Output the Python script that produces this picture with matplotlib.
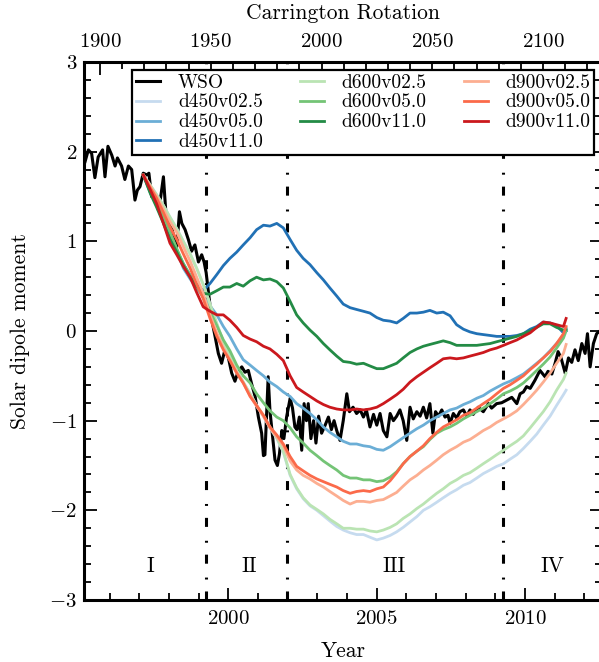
import numpy as np
import matplotlib
matplotlib.use('Agg')
import matplotlib.pyplot as plt
from matplotlib.ticker import MultipleLocator, FixedLocator

# Fonte parecida com o LaTeX (Computer Modern)
plt.rcParams['font.family'] = ['cmr10', 'DejaVu Serif']
plt.rcParams['mathtext.fontset'] = 'cm'
plt.rcParams['axes.formatter.use_mathtext'] = True
plt.rcParams['lines.scale_dashes'] = False

# Dados
wso_year = [1995.17, 1995.28, 1995.39, 1995.50, 1995.61, 1995.76, 1995.84, 1995.94, 1996.07, 1996.18,
            1996.26, 1996.40, 1996.51, 1996.63, 1996.74, 1996.85, 1996.93, 1997.02, 1997.13, 1997.25,
            1997.32, 1997.41, 1997.53, 1997.64, 1997.72, 1997.81, 1997.90, 1997.97, 1998.09, 1998.17,
            1998.26, 1998.35, 1998.43, 1998.54, 1998.65, 1998.76, 1998.87, 1998.99, 1999.10, 1999.18,
            1999.25, 1999.32, 1999.44, 1999.55, 1999.66, 1999.77, 1999.89, 2000.00, 2000.11, 2000.22,
            2000.33, 2000.45, 2000.56, 2000.67, 2000.79, 2000.90, 2001.01, 2001.12, 2001.18, 2001.23,
            2001.34, 2001.40, 2001.49, 2001.57, 2001.65, 2001.72, 2001.80, 2001.87, 2001.96, 2002.08,
            2002.16, 2002.24, 2002.31, 2002.39, 2002.47, 2002.55, 2002.63, 2002.69, 2002.78, 2002.87,
            2002.95, 2003.04, 2003.14, 2003.26, 2003.37, 2003.47, 2003.56, 2003.65, 2003.76, 2003.87,
            2003.99, 2004.08, 2004.20, 2004.32, 2004.44, 2004.55, 2004.65, 2004.77, 2004.89, 2005.00,
            2005.11, 2005.22, 2005.34, 2005.45, 2005.56, 2005.67, 2005.78, 2005.89, 2006.01, 2006.12,
            2006.23, 2006.35, 2006.46, 2006.57, 2006.68, 2006.79, 2006.89, 2006.98, 2007.08, 2007.19,
            2007.30, 2007.40, 2007.47, 2007.58, 2007.69, 2007.80, 2007.92, 2008.03, 2008.14, 2008.25,
            2008.42, 2008.59, 2008.76, 2008.87, 2009.04, 2009.21, 2009.38, 2009.55, 2009.72, 2009.83,
            2009.94, 2010.05, 2010.17, 2010.33, 2010.50, 2010.67, 2010.77, 2010.90, 2011.01, 2011.11,
            2011.21, 2011.35, 2011.46, 2011.57, 2011.68, 2011.79, 2011.91, 2012.02, 2012.10, 2012.19,
            2012.30, 2012.41, 2012.52]
wso_val = [1.89, 2.02, 1.98, 1.71, 1.94, 2.02, 1.72, 2.06, 1.96, 1.84,
           1.93, 1.84, 1.69, 1.84, 1.80, 1.46, 1.57, 1.61, 1.76, 1.74,
           1.76, 1.50, 1.52, 1.35, 1.50, 1.72, 1.28, 1.23, 1.16, 1.02,
           0.94, 1.33, 1.20, 1.13, 1.02, 0.89, 0.96, 0.77, 0.85, 0.77,
           0.65, 0.45, 0.12, -0.06, -0.25, -0.36, -0.20, -0.30, -0.47, -0.56,
           -0.45, -0.40, -0.46, -0.44, -0.60, -0.73, -0.96, -1.14, -1.39, -1.38,
           -0.51, -0.89, -1.18, -1.44, -1.50, -1.37, -1.11, -1.20, -0.96, -0.75,
           -0.86, -1.07, -1.10, -0.96, -1.33, -0.81, -1.00, -0.81, -1.20, -1.00,
           -1.25, -0.95, -1.14, -1.05, -0.96, -1.10, -1.00, -1.11, -1.22, -1.00,
           -0.70, -0.90, -0.85, -0.92, -0.88, -0.96, -0.88, -1.07, -0.93, -1.05,
           -0.92, -1.11, -1.18, -0.92, -1.00, -0.95, -0.88, -1.00, -1.22, -0.85,
           -0.98, -0.90, -0.95, -0.85, -0.97, -0.81, -1.14, -0.90, -0.95, -0.88,
           -0.96, -0.94, -1.03, -0.92, -0.97, -0.90, -0.88, -0.95, -0.88, -0.93,
           -0.85, -0.90, -0.81, -0.86, -0.81, -0.80, -0.77, -0.74, -0.81, -0.70,
           -0.68, -0.62, -0.64, -0.55, -0.44, -0.51, -0.45, -0.48, -0.36, -0.23,
           -0.30, -0.47, -0.30, -0.35, -0.21, -0.33, -0.14, -0.25, -0.03, -0.40,
           -0.14, -0.03, 0.00]

model_year = [1997.13, 1997.36, 1997.58, 1997.81, 1998.03, 1998.26, 1998.48, 1998.71, 1998.93, 1999.15,
              1999.38, 1999.61, 1999.83, 2000.05, 2000.28, 2000.50, 2000.73, 2000.95, 2001.18, 2001.40,
              2001.63, 2001.85, 2002.08, 2002.30, 2002.52, 2002.75, 2002.98, 2003.20, 2003.42, 2003.65,
              2003.87, 2004.10, 2004.32, 2004.55, 2004.77, 2005.00, 2005.22, 2005.45, 2005.67, 2005.89,
              2006.12, 2006.35, 2006.57, 2006.79, 2007.02, 2007.24, 2007.47, 2007.69, 2007.92, 2008.14,
              2008.37, 2008.59, 2008.82, 2009.04, 2009.27, 2009.49, 2009.72, 2009.94, 2010.17, 2010.39,
              2010.61, 2010.84, 2011.06, 2011.29, 2011.38]

d450v025 = [1.74, 1.63, 1.52, 1.40, 1.27, 1.14, 1.00, 0.86, 0.70, 0.52,
            0.30, 0.08, -0.12, -0.28, -0.44, -0.57, -0.70, -0.83, -0.95, -1.08,
            -1.20, -1.35, -1.61, -1.76, -1.87, -1.95, -2.00, -2.06, -2.12, -2.18,
            -2.22, -2.25, -2.27, -2.27, -2.30, -2.33, -2.31, -2.28, -2.24, -2.19,
            -2.13, -2.07, -2.00, -1.96, -1.91, -1.86, -1.81, -1.77, -1.72, -1.69,
            -1.64, -1.59, -1.55, -1.51, -1.48, -1.43, -1.38, -1.31, -1.23, -1.15,
            -1.05, -0.95, -0.83, -0.71, -0.66]
d450v050 = [1.74, 1.57, 1.42, 1.26, 1.10, 0.90, 0.70, 0.58, 0.48, 0.38,
            0.28, 0.18, 0.05, -0.06, -0.20, -0.32, -0.38, -0.44, -0.50, -0.57,
            -0.62, -0.68, -0.73, -0.81, -0.86, -0.92, -0.99, -1.07, -1.13, -1.18,
            -1.23, -1.26, -1.26, -1.28, -1.29, -1.32, -1.33, -1.29, -1.24, -1.19,
            -1.14, -1.09, -1.05, -1.00, -0.96, -0.92, -0.88, -0.86, -0.82, -0.79,
            -0.75, -0.72, -0.67, -0.63, -0.59, -0.56, -0.52, -0.48, -0.42, -0.36,
            -0.30, -0.22, -0.14, -0.05, 0.03]
d450v110 = [1.74, 1.55, 1.40, 1.22, 1.05, 0.90, 0.75, 0.62, 0.52, 0.45,
            0.53, 0.63, 0.73, 0.81, 0.88, 0.96, 1.04, 1.13, 1.18, 1.17,
            1.20, 1.15, 1.02, 0.90, 0.81, 0.74, 0.65, 0.57, 0.48, 0.39,
            0.30, 0.26, 0.24, 0.22, 0.20, 0.15, 0.12, 0.11, 0.09, 0.14,
            0.20, 0.20, 0.21, 0.23, 0.20, 0.21, 0.17, 0.07, 0.02, -0.01,
            -0.03, -0.04, -0.05, -0.06, -0.06, -0.06, -0.05, -0.03, 0.02, 0.05,
            0.10, 0.09, 0.06, -0.02, 0.00]
d600v025 = [1.74, 1.63, 1.52, 1.40, 1.27, 1.14, 1.00, 0.86, 0.70, 0.52,
            0.30, 0.08, -0.12, -0.28, -0.44, -0.57, -0.70, -0.83, -0.94, -1.07,
            -1.19, -1.34, -1.60, -1.75, -1.86, -1.94, -1.99, -2.04, -2.10, -2.15,
            -2.20, -2.20, -2.21, -2.21, -2.23, -2.24, -2.22, -2.19, -2.15, -2.09,
            -2.04, -1.98, -1.93, -1.87, -1.81, -1.76, -1.70, -1.66, -1.61, -1.58,
            -1.53, -1.48, -1.43, -1.38, -1.33, -1.28, -1.23, -1.17, -1.08, -0.99,
            -0.90, -0.79, -0.66, -0.54, -0.47]
d600v050 = [1.74, 1.58, 1.44, 1.27, 1.10, 0.92, 0.75, 0.62, 0.50, 0.38,
            0.22, 0.06, -0.10, -0.22, -0.38, -0.50, -0.58, -0.70, -0.80, -0.89,
            -0.96, -1.00, -1.08, -1.18, -1.25, -1.33, -1.39, -1.45, -1.50, -1.55,
            -1.61, -1.64, -1.64, -1.66, -1.66, -1.68, -1.67, -1.63, -1.57, -1.48,
            -1.40, -1.34, -1.29, -1.21, -1.14, -1.10, -1.07, -1.03, -0.98, -0.94,
            -0.90, -0.86, -0.81, -0.76, -0.70, -0.67, -0.63, -0.58, -0.51, -0.44,
            -0.37, -0.29, -0.19, -0.08, 0.00]
d600v110 = [1.74, 1.54, 1.38, 1.20, 1.02, 0.88, 0.73, 0.60, 0.50, 0.42,
            0.41, 0.45, 0.49, 0.49, 0.53, 0.50, 0.56, 0.60, 0.57, 0.58,
            0.55, 0.48, 0.33, 0.18, 0.09, 0.01, -0.06, -0.14, -0.21, -0.28,
            -0.34, -0.35, -0.37, -0.36, -0.39, -0.42, -0.42, -0.39, -0.36, -0.30,
            -0.24, -0.20, -0.17, -0.15, -0.13, -0.11, -0.13, -0.16, -0.16, -0.16,
            -0.16, -0.15, -0.14, -0.12, -0.10, -0.08, -0.06, -0.03, 0.00, 0.04,
            0.08, 0.08, 0.04, 0.01, 0.02]
d900v025 = [1.74, 1.62, 1.50, 1.36, 1.22, 1.10, 0.94, 0.78, 0.60, 0.42,
            0.18, -0.02, -0.19, -0.32, -0.46, -0.58, -0.72, -0.84, -0.95, -1.08,
            -1.18, -1.28, -1.45, -1.55, -1.61, -1.65, -1.70, -1.74, -1.79, -1.84,
            -1.89, -1.93, -1.90, -1.90, -1.91, -1.89, -1.88, -1.84, -1.80, -1.73,
            -1.66, -1.61, -1.55, -1.50, -1.44, -1.38, -1.33, -1.29, -1.24, -1.21,
            -1.16, -1.11, -1.07, -1.02, -0.98, -0.94, -0.89, -0.82, -0.74, -0.66,
            -0.57, -0.47, -0.36, -0.25, -0.15]
d900v050 = [1.74, 1.60, 1.48, 1.32, 1.16, 1.02, 0.86, 0.70, 0.52, 0.36,
            0.14, -0.06, -0.21, -0.33, -0.47, -0.58, -0.73, -0.83, -0.94, -1.07,
            -1.16, -1.26, -1.40, -1.51, -1.56, -1.61, -1.65, -1.68, -1.71, -1.74,
            -1.78, -1.81, -1.79, -1.78, -1.79, -1.76, -1.74, -1.67, -1.58, -1.48,
            -1.40, -1.34, -1.28, -1.20, -1.13, -1.07, -1.03, -0.99, -0.94, -0.91,
            -0.86, -0.81, -0.76, -0.70, -0.64, -0.60, -0.55, -0.50, -0.43, -0.37,
            -0.30, -0.23, -0.14, -0.03, 0.05]
d900v110 = [1.74, 1.58, 1.42, 1.20, 0.98, 0.85, 0.72, 0.60, 0.43, 0.27,
            0.22, 0.18, 0.18, 0.12, 0.04, -0.05, -0.09, -0.12, -0.17, -0.20,
            -0.26, -0.33, -0.50, -0.63, -0.68, -0.73, -0.78, -0.82, -0.85, -0.87,
            -0.88, -0.88, -0.87, -0.88, -0.87, -0.85, -0.81, -0.76, -0.71, -0.65,
            -0.57, -0.51, -0.46, -0.41, -0.36, -0.31, -0.30, -0.31, -0.30, -0.28,
            -0.26, -0.24, -0.21, -0.19, -0.16, -0.13, -0.10, -0.06, -0.02, 0.04,
            0.10, 0.09, 0.07, 0.05, 0.14]

model_names = ['d450v02.5', 'd450v05.0', 'd450v11.0',
               'd600v02.5', 'd600v05.0', 'd600v11.0',
               'd900v02.5', 'd900v05.0', 'd900v11.0']
model_vals = [d450v025, d450v050, d450v110,
              d600v025, d600v050, d600v110,
              d900v025, d900v050, d900v110]
model_cores = ['#c6dbef', '#6baed6', '#2171b5',
               '#bae4b3', '#74c476', '#238b45',
               '#fcae91', '#fb6a4a', '#cb181d']

fases = [1999.25, 2001.96, 2009.27]
fase_nomes = ['I', 'II', 'III', 'IV']
fase_pos = [1997.36, 2000.70, 2005.58, 2010.93]
cr_ticks = [1900, 1950, 2000, 2050, 2100]


def ano2cr(a):
    return 2000 + (np.asarray(a) - 2003.138) / 0.074676


def cr2ano(c):
    return 2003.138 + (np.asarray(c) - 2000) * 0.074676


fig = plt.figure(figsize=(5.99, 6.62), dpi=100)
ax = fig.add_axes([84 / 599, 62 / 662, 518 / 599, 538 / 662])

ax.plot(wso_year, wso_val, color='black', lw=2.2, label='WSO', zorder=2)
for nome, vals, cor in zip(model_names, model_vals, model_cores):
    ax.plot(model_year, vals, color=cor, lw=2.0, label=nome, zorder=3)

for f in fases:
    ax.axvline(f, color='black', lw=2.2, dashes=(6.5, 8.6, 1.4, 10), zorder=1)

for nome, pos in zip(fase_nomes, fase_pos):
    ax.text(pos, -2.62, nome, ha='center', va='center', fontsize=15.5)

ax.set_xlim(1995.133, 2012.59)
ax.set_ylim(-3, 3)
ax.xaxis.set_major_locator(MultipleLocator(5))
ax.xaxis.set_minor_locator(MultipleLocator(1))
ax.yaxis.set_major_locator(MultipleLocator(1))
ax.yaxis.set_minor_locator(MultipleLocator(0.2))
ax.tick_params(which='both', direction='in', top=False, right=True, labelsize=15, width=1.3)
ax.tick_params(which='major', length=9)
ax.tick_params(which='minor', length=5)
ax.tick_params(axis='x', pad=7)
ax.tick_params(axis='y', pad=5)
for s in ax.spines.values():
    s.set_linewidth(2.2)
ax.set_xlabel('Year', fontsize=15.5, labelpad=10)
ax.set_ylabel('Solar dipole moment', fontsize=15.5, labelpad=14)

sec = ax.secondary_xaxis('top', functions=(ano2cr, cr2ano))
sec.xaxis.set_major_locator(FixedLocator(cr_ticks))
sec.xaxis.set_minor_locator(MultipleLocator(10))
sec.tick_params(which='both', direction='in', labelsize=15, width=1.3, pad=8)
sec.tick_params(which='major', length=9)
sec.tick_params(which='minor', length=5)
sec.set_xlabel('Carrington Rotation', fontsize=15.5, labelpad=10)

leg = ax.legend(loc='upper right', ncol=3, fontsize=14, frameon=True, fancybox=False,
                handlelength=1.25, labelspacing=0.1, columnspacing=1.9, handletextpad=0.9,
                borderpad=0.2, borderaxespad=0.4)
leg.get_frame().set_edgecolor('black')
leg.get_frame().set_linewidth(1.6)
leg.get_frame().set_alpha(1)
leg.set_zorder(10)

fig.savefig('out.png', dpi=100)
